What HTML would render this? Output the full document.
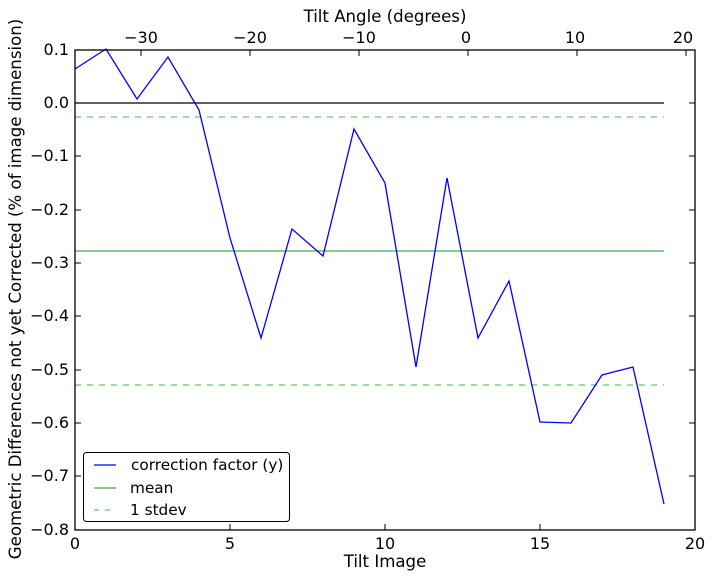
<!DOCTYPE html>
<html><head><style>body{margin:0;background:#fff}</style></head><body>
<svg width="714" height="579" xmlns="http://www.w3.org/2000/svg" font-family="DejaVu Sans, Liberation Sans, sans-serif" font-size="16">
<rect width="714" height="579" fill="#fff"/>
<line x1="75" y1="103" x2="664" y2="103" stroke="#000" stroke-width="1.3"/>
<line x1="75" y1="251" x2="664" y2="251" stroke="#008000" stroke-opacity="0.7" stroke-width="1.3"/>
<line x1="75" y1="117" x2="664" y2="117" stroke="#00a000" stroke-opacity="0.6" stroke-width="1.3" stroke-dasharray="6,6"/>
<line x1="75" y1="385" x2="664" y2="385" stroke="#00a000" stroke-opacity="0.6" stroke-width="1.3" stroke-dasharray="6,6"/>
<polyline fill="none" stroke="#0000ff" stroke-width="1.3" points="75,69 106,49 137,99 168,57 199,110 230,238 261,338 292,229 323,256 354,129 385,183 416,367 447,178 478,338 509,281 540,422 571,423 602,375 633,367 664,504"/>
<rect x="75" y="50" width="620" height="480" fill="none" stroke="#000" stroke-width="1.3"/>
<g stroke="#000" stroke-width="1">
<line x1="230" y1="530" x2="230" y2="524"/><line x1="385" y1="530" x2="385" y2="524"/><line x1="540" y1="530" x2="540" y2="524"/>
<line x1="75" y1="103" x2="81" y2="103"/><line x1="75" y1="156" x2="81" y2="156"/><line x1="75" y1="210" x2="81" y2="210"/><line x1="75" y1="263" x2="81" y2="263"/><line x1="75" y1="316" x2="81" y2="316"/><line x1="75" y1="370" x2="81" y2="370"/><line x1="75" y1="423" x2="81" y2="423"/><line x1="75" y1="476" x2="81" y2="476"/>
<line x1="695" y1="103" x2="689" y2="103"/><line x1="695" y1="156" x2="689" y2="156"/><line x1="695" y1="210" x2="689" y2="210"/><line x1="695" y1="263" x2="689" y2="263"/><line x1="695" y1="316" x2="689" y2="316"/><line x1="695" y1="370" x2="689" y2="370"/><line x1="695" y1="423" x2="689" y2="423"/><line x1="695" y1="476" x2="689" y2="476"/>
<line x1="141" y1="50" x2="141" y2="56"/><line x1="250" y1="50" x2="250" y2="56"/><line x1="359" y1="50" x2="359" y2="56"/><line x1="468" y1="50" x2="468" y2="56"/><line x1="577" y1="50" x2="577" y2="56"/><line x1="686" y1="50" x2="686" y2="56"/>
</g>
<g text-anchor="middle">
<text x="75" y="549">0</text><text x="230" y="549">5</text><text x="385" y="549">10</text><text x="540" y="549">15</text><text x="695" y="549">20</text>
<text x="141" y="43">−30</text><text x="250" y="43">−20</text><text x="359" y="43">−10</text><text x="466" y="43">0</text><text x="575" y="43">10</text><text x="683" y="43">20</text>
<text x="385" y="567" font-size="16.6">Tilt Image</text>
<text x="385" y="22" font-size="16.6">Tilt Angle (degrees)</text>
</g>
<g text-anchor="end">
<text x="69" y="55">0.1</text><text x="69" y="108">0.0</text><text x="69" y="161">−0.1</text><text x="69" y="215">−0.2</text><text x="69" y="268">−0.3</text><text x="69" y="321">−0.4</text><text x="69" y="375">−0.5</text><text x="69" y="428">−0.6</text><text x="69" y="481">−0.7</text><text x="69" y="535">−0.8</text>
</g>
<text transform="translate(21,289) rotate(-90)" text-anchor="middle" font-size="16.6">Geometric Differences not yet Corrected (% of image dimension)</text>
<rect x="83.5" y="452.5" width="206" height="69" rx="3" fill="#fff" stroke="#000" stroke-width="1"/>
<line x1="94" y1="465" x2="116" y2="465" stroke="#0000ff" stroke-width="1.3"/>
<line x1="94" y1="488" x2="116" y2="488" stroke="#008000" stroke-opacity="0.7" stroke-width="1.3"/>
<line x1="94" y1="510" x2="116" y2="510" stroke="#00a000" stroke-opacity="0.6" stroke-width="1.3" stroke-dasharray="5,6"/>
<g font-size="15.3">
<text x="131" y="470">correction factor (y)</text>
<text x="130" y="493">mean</text>
<text x="130" y="515">1 stdev</text>
</g>
</svg>
</body></html>
